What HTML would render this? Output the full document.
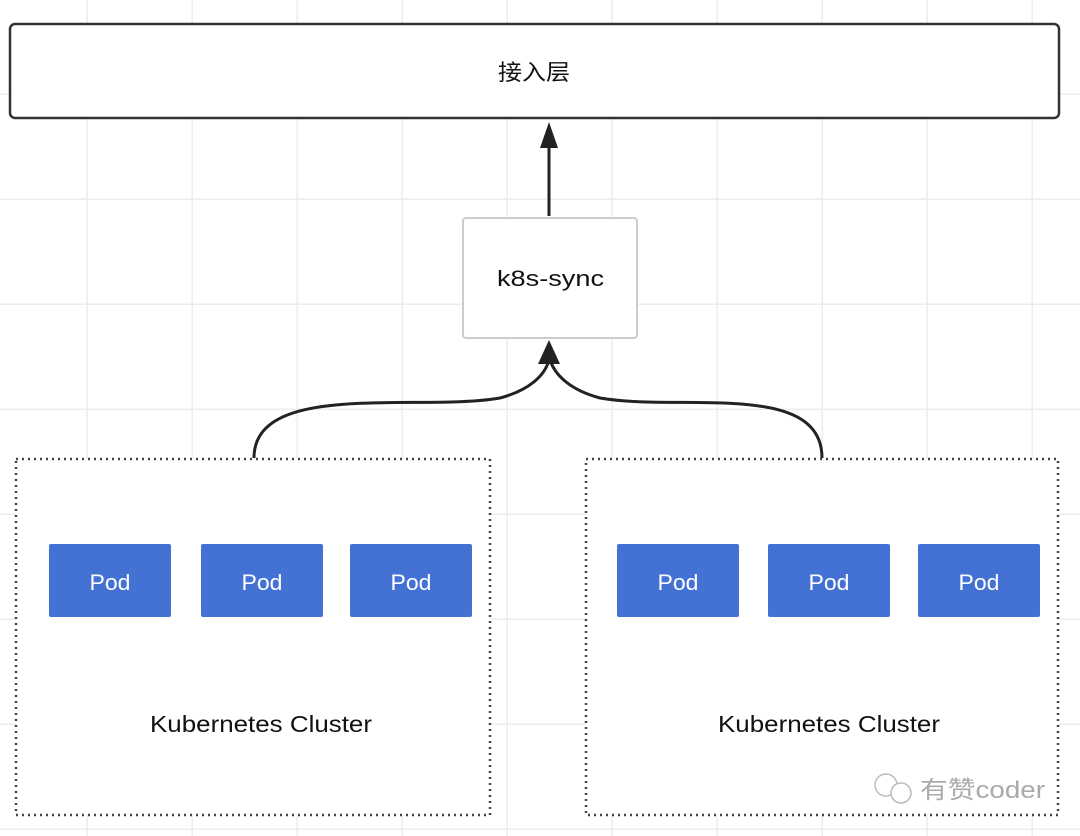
<!DOCTYPE html>
<html><head><meta charset="utf-8"><style>
html,body{margin:0;padding:0;background:#fff;}
svg{display:block}
text{font-family:"Liberation Sans","Noto Sans CJK SC",sans-serif;}
</style></head><body>
<svg width="1080" height="836" viewBox="0 0 1080 836" xmlns="http://www.w3.org/2000/svg">
<defs>
<pattern id="g" x="-17" y="-10" width="105" height="105" patternUnits="userSpaceOnUse">
<path d="M105 0V105M0 105H105" stroke="#ececec" stroke-width="3" fill="none"/>
</pattern>
</defs>
<rect width="1080" height="836" fill="#fff"/>
<rect width="1080" height="836" fill="url(#g)"/>
<rect x="10" y="24" width="1049" height="94" rx="5" fill="#fff" stroke="#333" stroke-width="2.5"/>
<text x="498" y="80" font-size="22" textLength="72" lengthAdjust="spacingAndGlyphs" fill="#111">接入层</text>
<rect x="463" y="218" width="174" height="120" rx="3" fill="#fff" stroke="#ccc" stroke-width="2"/>
<text x="497" y="286" font-size="22" textLength="107" lengthAdjust="spacingAndGlyphs" fill="#111">k8s-sync</text>
<path d="M549 216V145" stroke="#222" stroke-width="3" fill="none"/>
<polygon points="549,122 540,148 558,148" fill="#222"/>
<path d="M254 458C254 380 420 412 500 398C530 390 545 375 549 360" stroke="#222" stroke-width="3" fill="none"/>
<path d="M822 458C822 380 680 412 600 398C570 390 555 375 550 360" stroke="#222" stroke-width="3" fill="none"/>
<polygon points="549,340 538,364 560,364" fill="#222"/>
<rect x="16" y="459" width="474" height="356" fill="#fff" stroke="#444" stroke-width="2.5" stroke-dasharray="2 4"/>
<rect x="586" y="459" width="472" height="356" fill="#fff" stroke="#444" stroke-width="2.5" stroke-dasharray="2 4"/>
<g fill="#4472d4">
<rect x="49" y="544" width="122" height="73" rx="2"/>
<rect x="201" y="544" width="122" height="73" rx="2"/>
<rect x="350" y="544" width="122" height="73" rx="2"/>
<rect x="617" y="544" width="122" height="73" rx="2"/>
<rect x="768" y="544" width="122" height="73" rx="2"/>
<rect x="918" y="544" width="122" height="73" rx="2"/>
</g>
<g fill="#fff" font-size="22" text-anchor="middle">
<text x="110" y="590" textLength="41" lengthAdjust="spacingAndGlyphs">Pod</text><text x="262" y="590" textLength="41" lengthAdjust="spacingAndGlyphs">Pod</text><text x="411" y="590" textLength="41" lengthAdjust="spacingAndGlyphs">Pod</text>
<text x="678" y="590" textLength="41" lengthAdjust="spacingAndGlyphs">Pod</text><text x="829" y="590" textLength="41" lengthAdjust="spacingAndGlyphs">Pod</text><text x="979" y="590" textLength="41" lengthAdjust="spacingAndGlyphs">Pod</text>
</g>
<g fill="#111" font-size="23" text-anchor="middle">
<text x="261" y="732" textLength="222" lengthAdjust="spacingAndGlyphs">Kubernetes Cluster</text>
<text x="829" y="732" textLength="222" lengthAdjust="spacingAndGlyphs">Kubernetes Cluster</text>
</g>
<g stroke="#bbb" stroke-width="1.5" fill="#fff">
<circle cx="886" cy="785" r="11"/><circle cx="901" cy="793" r="10"/>
</g>
<text x="920" y="798" font-size="24" textLength="125" lengthAdjust="spacingAndGlyphs" fill="#aaa">有赞coder</text>
</svg>
</body></html>
